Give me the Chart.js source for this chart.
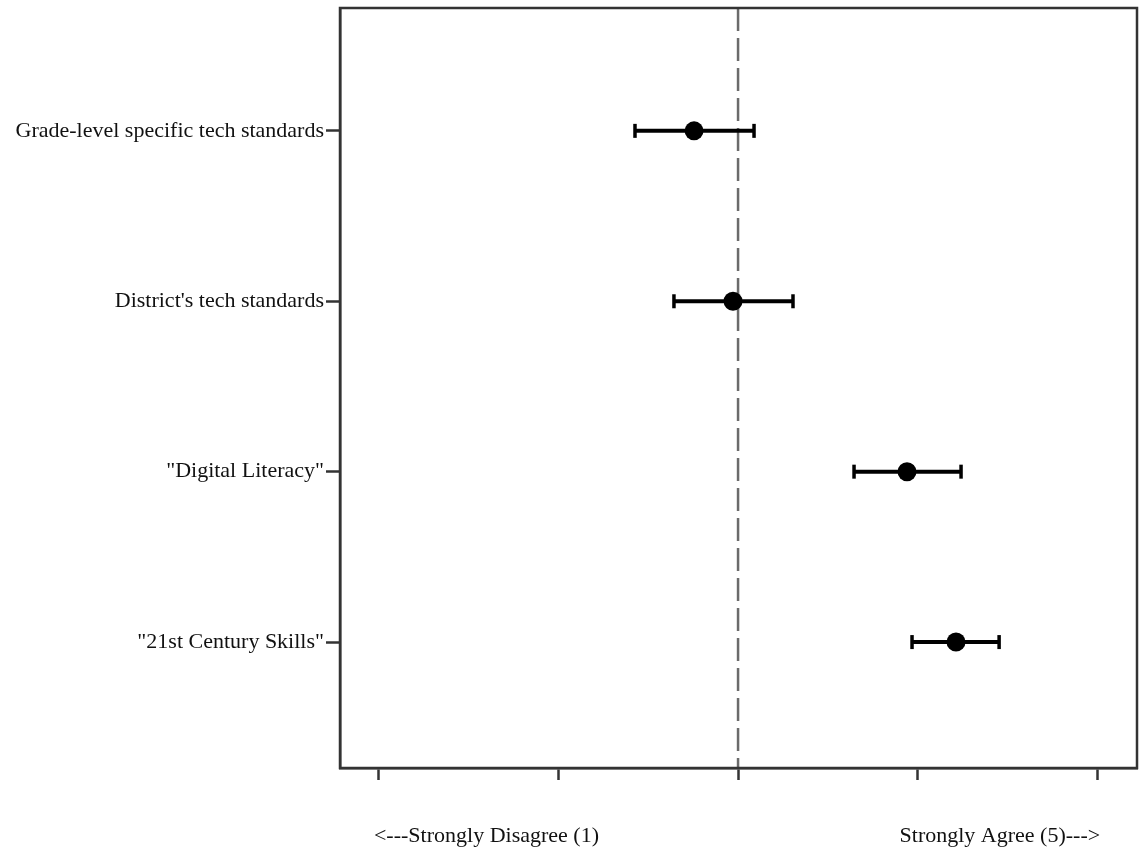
<!DOCTYPE html>
<html>
<head>
<meta charset="utf-8">
<script src="https://cdn.jsdelivr.net/npm/chart.js@4"></script>
<style>
  html, body { margin: 0; padding: 0; background: #fff; }
  #wrap { width: 1141px; height: 852px; position: relative; }
</style>
</head>
<body>
<div id="wrap"><canvas id="c" width="1141" height="852"></canvas></div>
<script>
// Survey items (top to bottom)
const categories = [
  'Grade-level specific tech standards',
  "District's tech standards",
  '"Digital Literacy"',
  '"21st Century Skills"'
];
// Mean agreement and confidence interval bounds (1 = strongly disagree, 5 = strongly agree)
const means = [2.755, 2.972, 3.941, 4.214];
const lower = [2.426, 2.643, 3.646, 3.969];
const upper = [3.089, 3.306, 4.242, 4.454];
const xTicks = [1, 2, 3, 4, 5];
const neutral = 3;
const endLabels = ['<---Strongly Disagree (1)', 'Strongly Agree (5)--->'];

const FONT = '"Liberation Serif", "Times New Roman", serif';
const xMin = 0.783, xMax = 5.222;
const yMin = 0.279, yMax = 4.739;

const datasets = [];
// neutral reference line
datasets.push({
  type: 'line',
  data: [{ x: neutral, y: yMin }, { x: neutral, y: yMax }],
  borderColor: '#6b6b6b',
  borderWidth: 2.5,
  borderDash: [23, 7],
  pointRadius: 0,
  order: 3
});
// interval bars with end caps
categories.forEach((c, i) => {
  datasets.push({
    type: 'line',
    data: [{ x: lower[i], y: i + 1 }, { x: upper[i], y: i + 1 }],
    borderColor: '#000',
    borderWidth: 4,
    pointStyle: 'line',
    rotation: 90,
    pointRadius: 7,
    pointBorderWidth: 3.5,
    pointBorderColor: '#000',
    order: 2
  });
});
// means
datasets.push({
  type: 'scatter',
  data: means.map((m, i) => ({ x: m, y: i + 1 })),
  backgroundColor: '#000',
  borderColor: '#000',
  pointRadius: 9.5,
  pointBorderWidth: 0,
  order: 1
});

const framePlugin = {
  id: 'frame',
  afterDraw(chart) {
    const { ctx, chartArea: a, scales } = chart;
    ctx.save();
    ctx.strokeStyle = '#333';
    ctx.lineWidth = 2.5;
    ctx.strokeRect(a.left, a.top, a.right - a.left, a.bottom - a.top);
    ctx.fillStyle = '#111';
    ctx.font = '22px ' + FONT;
    ctx.textBaseline = 'middle';
    ctx.textAlign = 'left';
    ctx.fillText(endLabels[0], scales.x.getPixelForValue(xTicks[0]) - 5, 836);
    ctx.textAlign = 'right';
    ctx.fillText(endLabels[1], scales.x.getPixelForValue(xTicks[xTicks.length - 1]) + 3, 836);
    ctx.restore();
  }
};

new Chart(document.getElementById('c'), {
  type: 'scatter',
  data: { datasets },
  plugins: [framePlugin],
  options: {
    responsive: false,
    animation: false,
    layout: { autoPadding: false, padding: { top: 8, right: 4, left: 0, bottom: 0 } },
    plugins: { legend: { display: false }, tooltip: { enabled: false } },
    scales: {
      x: {
        type: 'linear',
        min: xMin, max: xMax,
        afterBuildTicks: s => { s.ticks = xTicks.map(v => ({ value: v })); },
        afterFit: s => { s.height = 84; s.paddingLeft = 0; s.paddingRight = 0; },
        ticks: { display: false },
        grid: { drawOnChartArea: false, drawTicks: true, tickLength: 12, tickWidth: 2.5, tickColor: '#333' },
        border: { display: true, color: '#333', width: 2.5 }
      },
      y: {
        type: 'linear',
        reverse: true,
        min: yMin, max: yMax,
        afterBuildTicks: s => { s.ticks = categories.map((c, i) => ({ value: i + 1 })); },
        afterFit: s => { s.width = 340; s.paddingTop = 0; s.paddingBottom = 0; },
        ticks: {
          callback: v => categories[Math.round(v) - 1] || '',
          color: '#111',
          padding: 2,
          font: { family: FONT, size: 22 }
        },
        grid: { drawOnChartArea: false, drawTicks: true, tickLength: 14, tickWidth: 2.5, tickColor: '#333' },
        border: { display: true, color: '#333', width: 2.5 }
      }
    }
  }
});
</script>
</body>
</html>
